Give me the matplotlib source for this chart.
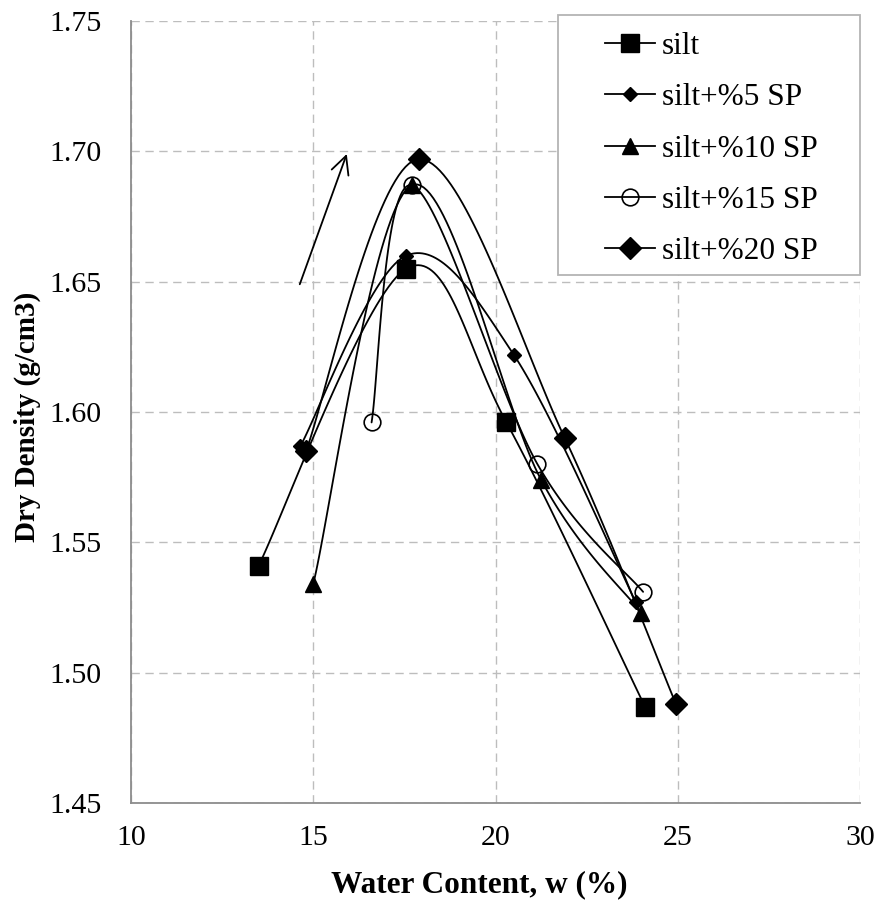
import numpy as np
import matplotlib
matplotlib.use("Agg")
import matplotlib.pyplot as plt
from matplotlib.lines import Line2D
from matplotlib.patches import Rectangle

# ---- data ----
silt_x = [13.5, 17.55, 20.3, 24.1]
silt_y = [1.541, 1.655, 1.596, 1.487]

sp5_x = [14.65, 17.55, 20.5, 23.85]
sp5_y = [1.587, 1.660, 1.622, 1.527]

sp10_x = [15.0, 17.7, 21.25, 24.0]
sp10_y = [1.534, 1.687, 1.574, 1.523]

sp15_x = [16.6, 17.7, 21.15, 24.05]
sp15_y = [1.596, 1.687, 1.580, 1.531]

sp20_x = [14.8, 17.9, 21.9, 24.95]
sp20_y = [1.585, 1.697, 1.590, 1.488]

labels = ["silt", "silt+%5 SP", "silt+%10 SP", "silt+%15 SP", "silt+%20 SP"]

x_ticks = [10, 15, 20, 25, 30]
y_ticks = [1.45, 1.50, 1.55, 1.60, 1.65, 1.70, 1.75]

arrow_start = (14.63, 1.649)
arrow_end = (15.92, 1.699)

plt.rcParams['font.family'] = ['Liberation Serif', 'DejaVu Serif']

W, H = 881, 901
fig = plt.figure(figsize=(W / 100, H / 100), dpi=100)
L, R, T, B = 131, 860, 21, 803
ax = fig.add_axes([L / W, 1 - B / H, (R - L) / W, (B - T) / H])
ax.set_xlim(10, 30)
ax.set_ylim(1.45, 1.75)

ax_w = R - L
ax_h = B - T


def smooth(xs, ys, n=40):
    # Excel-like smoothed line (Catmull-Rom style Bezier), computed in pixel space
    px = (np.array(xs) - 10) / 20 * ax_w
    py = (np.array(ys) - 1.45) / 0.30 * ax_h
    P = np.column_stack([px, py])
    P_ext = np.vstack([P[0], P, P[-1]])
    out = []
    t = np.linspace(0, 1, n)
    for i in range(len(P) - 1):
        p0 = P_ext[i + 1]
        p3 = P_ext[i + 2]
        c1 = p0 + (P_ext[i + 2] - P_ext[i]) / 6.0
        c2 = p3 - (P_ext[i + 3] - P_ext[i + 1]) / 6.0
        seg = ((1 - t) ** 3)[:, None] * p0 + (3 * (1 - t) ** 2 * t)[:, None] * c1 \
            + (3 * (1 - t) * t ** 2)[:, None] * c2 + (t ** 3)[:, None] * p3
        out.append(seg if i == 0 else seg[1:])
    S = np.vstack(out)
    return S[:, 0] / ax_w * 20 + 10, S[:, 1] / ax_h * 0.30 + 1.45


series = [
    (silt_x, silt_y, dict(marker='s', markersize=13, markerfacecolor='black', markeredgecolor='black')),
    (sp5_x, sp5_y, dict(marker='D', markersize=7, markerfacecolor='black', markeredgecolor='black')),
    (sp10_x, sp10_y, dict(marker='^', markersize=11, markerfacecolor='black', markeredgecolor='black')),
    (sp15_x, sp15_y, dict(marker='o', markersize=12, markerfacecolor='none', markeredgecolor='black', markeredgewidth=1.2)),
    (sp20_x, sp20_y, dict(marker='D', markersize=11, markerfacecolor='black', markeredgecolor='black')),
]

for xs, ys, st in series:
    sx, sy = smooth(xs, ys)
    ax.plot(sx, sy, color='black', lw=1.3, zorder=2, solid_capstyle='round')

marker_order = [1, 0, 3, 2, 4]
for k, i in enumerate(marker_order):
    xs, ys, st = series[i]
    ax.plot(xs, ys, linestyle='none', zorder=3 + k, **st)

# arrow
ax.annotate('', xy=arrow_end, xytext=arrow_start,
            arrowprops=dict(arrowstyle='->', color='black', lw=1.3, mutation_scale=32,
                            shrinkA=0, shrinkB=0))

# grid & axes styling
ax.set_xticks(x_ticks)
ax.set_yticks(y_ticks)
ax.set_yticklabels([f"{v:.2f}" for v in y_ticks])
ax.grid(True, color='#bdbdbd', linestyle=(0, (6, 4)), linewidth=1.0, zorder=0)
ax.set_axisbelow(True)
for s in ['top', 'right']:
    ax.spines[s].set_visible(False)
for s in ['left', 'bottom']:
    ax.spines[s].set_color('#8c8c8c')
    ax.spines[s].set_linewidth(1.3)
ax.tick_params(axis='both', length=0)
ax.tick_params(axis='y', labelsize=21.5, pad=21)
ax.tick_params(axis='x', labelsize=21.5, pad=16)

ax.set_xlabel('Water Content, w (%)', fontsize=22.5, fontweight='bold', va='center')
ax.xaxis.set_label_coords((479 - L) / ax_w, (B - 885) / ax_h)
ax.set_ylabel('Dry Density (g/cm3)', fontsize=21, fontweight='bold', va='center')
ax.yaxis.set_label_coords((27 - L) / ax_w, (B - 417) / ax_h)

# legend (frame drawn separately to match the wide left padding)
fig.patches.append(Rectangle((558 / W, 1 - 275 / H), (860 - 558) / W, (275 - 15) / H,
                             transform=fig.transFigure, facecolor='white',
                             edgecolor='#b4b4b4', linewidth=1.3, zorder=19))
handles = []
for xs, ys, st in series:
    handles.append(Line2D([0], [0], color='black', lw=1.3, **st))
leg = fig.legend(handles, labels, loc='upper left',
                 bbox_to_anchor=(605 / W, 1 - 32 / H),
                 fontsize=22.5, frameon=False,
                 handlelength=1.6, handletextpad=0.22,
                 labelspacing=0.715, borderpad=0.0, borderaxespad=0.0)
leg.set_zorder(20)

fig.savefig('out.png', dpi=100)
